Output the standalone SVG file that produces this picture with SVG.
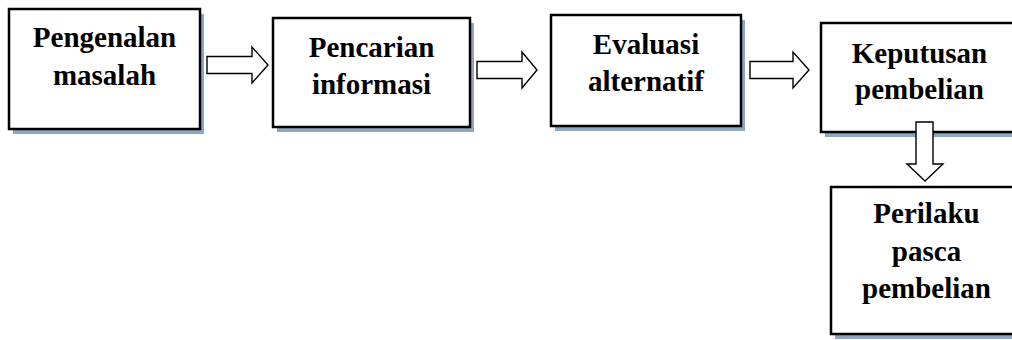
<svg xmlns="http://www.w3.org/2000/svg" width="1012" height="340" viewBox="0 0 1012 340">
<style>
.box{fill:#fff;stroke:#000;stroke-width:2.5}
.sh{fill:#8fa6c1}
.arr{fill:#fff;stroke:#000;stroke-width:1.4;stroke-linejoin:miter}
text{font-family:"Liberation Serif","Times New Roman",serif;font-weight:bold;font-size:29px;text-anchor:middle;fill:#000}
</style>
<rect width="1012" height="340" fill="#fff"/>
<g id="n1">
<rect class="sh" x="13" y="14" width="191" height="120"/>
<rect class="box" x="9" y="9" width="191" height="120"/>
<text x="104.5" y="47">Pengenalan</text>
<text x="104.5" y="85">masalah</text>
</g>
<g id="n2">
<rect class="sh" x="277" y="23" width="197" height="109"/>
<rect class="box" x="273" y="18" width="197" height="109"/>
<text x="371.5" y="57">Pencarian</text>
<text x="371.5" y="94">informasi</text>
</g>
<g id="n3">
<rect class="sh" x="555" y="20" width="190" height="111"/>
<rect class="box" x="551" y="15" width="190" height="111"/>
<text x="646" y="54">Evaluasi</text>
<text x="646" y="91">alternatif</text>
</g>
<g id="n4">
<rect class="sh" x="825" y="28" width="197" height="109"/>
<rect class="box" x="821" y="23" width="197" height="109"/>
<text x="919.5" y="63">Keputusan</text>
<text x="919.5" y="99">pembelian</text>
</g>
<g id="n5">
<rect class="sh" x="835" y="192" width="191" height="147"/>
<rect class="box" x="831" y="187" width="191" height="147"/>
<text x="926.5" y="223">Perilaku</text>
<text x="926.5" y="261">pasca</text>
<text x="926.5" y="298">pembelian</text>
</g>
<g id="connectors">
<polygon class="arr" points="207,56.5 252,56.5 252,47 268,65 252,83 252,73.5 207,73.5"/>
<polygon class="arr" points="477,61.5 522,61.5 522,52 537,70 522,88 522,78.5 477,78.5"/>
<polygon class="arr" points="750,61.5 793,61.5 793,52 809,70 793,88 793,78.5 750,78.5"/>
<polygon class="arr" points="916,122 933,122 933,164 943,164 925,181 907,164 916,164"/>
</g>
</svg>
